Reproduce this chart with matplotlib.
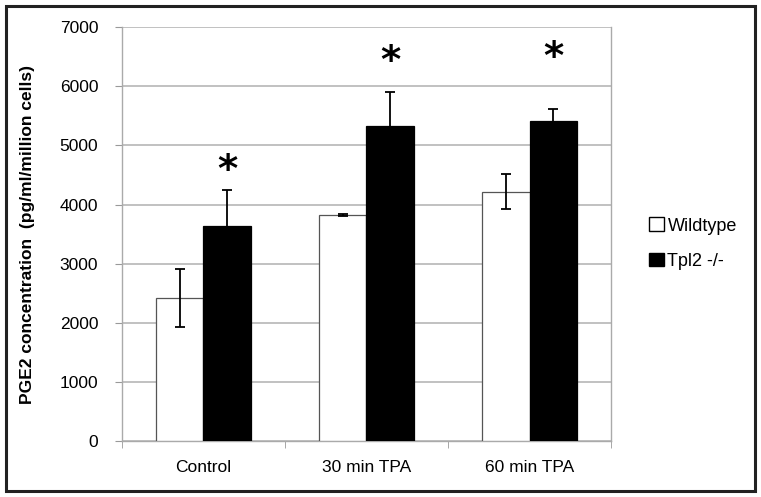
import matplotlib.pyplot as plt
import matplotlib.patches as mpatches
import numpy as np

# data
groups = ["Control", "30 min TPA", "60 min TPA"]
wildtype = [2420, 3820, 4220]
wildtype_err = [490, 20, 300]
tpl2 = [3640, 5330, 5420]
tpl2_err = [600, 570, 200]
star_y = [4560, 6420, 6480]

plt.rcParams['font.family'] = ['Liberation Sans', 'DejaVu Sans']

fig = plt.figure(figsize=(7.61, 4.97), dpi=100)
ax = fig.add_axes([0.160, 0.113, 0.643, 0.832])

x = np.arange(len(groups))
w = 0.29
ax.bar(x - w / 2, wildtype, w, color="white", edgecolor="#555555", linewidth=0.9,
       yerr=wildtype_err, error_kw=dict(ecolor="black", elinewidth=1.3, capsize=3.5, capthick=1.3),
       zorder=3, label="Wildtype")
ax.bar(x + w / 2, tpl2, w, color="black", edgecolor="black", linewidth=0.9,
       yerr=tpl2_err, error_kw=dict(ecolor="black", elinewidth=1.3, capsize=3.5, capthick=1.3),
       zorder=3, label="Tpl2 -/-")

for xi, yi in zip(x, star_y):
    ax.text(xi + w / 2, yi, "*", ha="center", va="center", fontsize=28, fontweight="bold",
            family="DejaVu Sans")

ax.set_xlim(-0.5, 2.5)
ax.set_ylim(0, 7000)
ax.set_yticks(range(0, 7001, 1000))
ax.yaxis.grid(True, color="#b0b0b0", linewidth=1.1, zorder=0)
ax.set_axisbelow(True)

ax.set_xticks(x)
ax.set_xticklabels(groups, fontsize=12.5)
ax.set_xticks([-0.5, 0.5, 1.5, 2.5], minor=True)
ax.tick_params(axis="x", which="major", length=0, pad=14)
ax.tick_params(axis="x", which="minor", length=5, color="#999999", direction="out")
ax.tick_params(axis="y", length=5, color="#999999", labelsize=12.5, pad=12)

for s in ["left", "bottom", "right", "top"]:
    ax.spines[s].set_color("#aaaaaa")
    ax.spines[s].set_linewidth(1.0)
ax.spines["top"].set_visible(False)

ax.set_ylabel("PGE2 concentration  (pg/ml/million cells)", fontsize=12.5, fontweight="bold",
              labelpad=18)

handles = [mpatches.Patch(facecolor="white", edgecolor="black", label="Wildtype"),
           mpatches.Patch(facecolor="black", edgecolor="black", label="Tpl2 -/-")]
fig.legend(handles=handles, loc="center left", bbox_to_anchor=(0.832, 0.51), frameon=False,
           fontsize=13, handlelength=0.8, handleheight=0.8, handletextpad=0.2, labelspacing=1.0)

# outer frame around the whole figure
fig.patches.append(mpatches.Rectangle((0.008, 0.013), 0.984, 0.975, transform=fig.transFigure,
                                      fill=False, edgecolor="#222222", linewidth=2.2))

fig.savefig("out.png", dpi=100)
